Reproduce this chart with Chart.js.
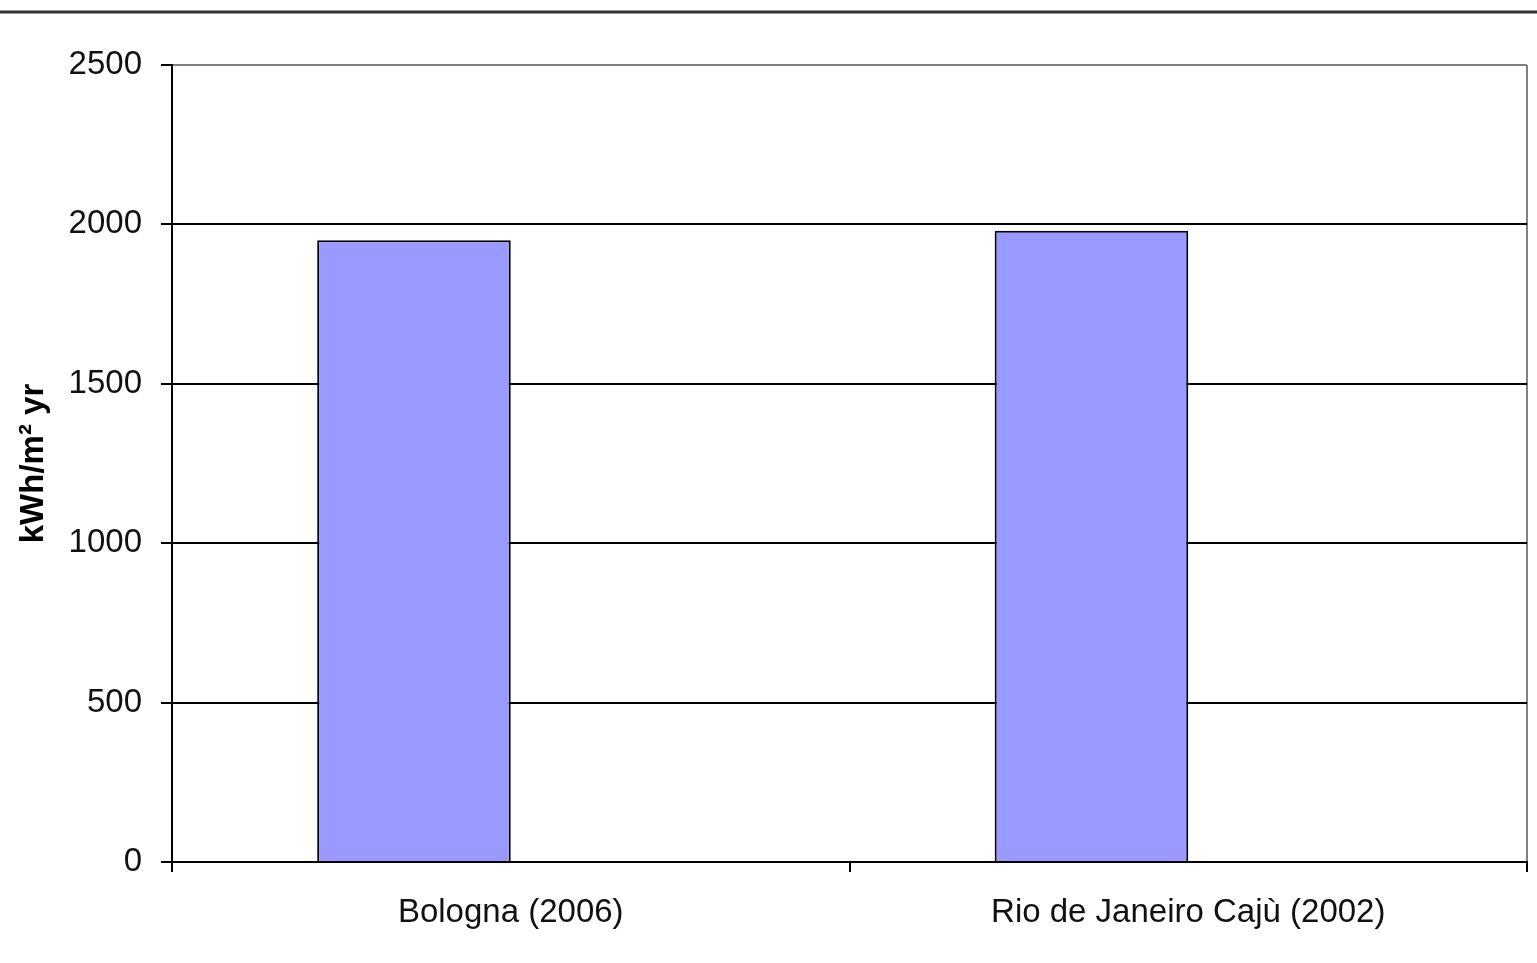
<!DOCTYPE html>
<html>
<head>
<meta charset="utf-8">
<script src="https://cdn.jsdelivr.net/npm/chart.js@4/dist/chart.umd.min.js"></script>
<style>
  body { margin: 0; background: #fff; }
  canvas { display: block; }
</style>
</head>
<body>
<canvas id="bar-chart" width="1537" height="963"></canvas>
<script>
// solar irradiation per site, kWh/m2 yr
var categories = ["Bologna (2006)", "Rio de Janeiro Cajù (2002)"];
var irradiation = [1950, 1980];
var secondSeries = [null, null];   // empty second series keeps the bars to the left of each slot
var yTicks = [0, 500, 1000, 1500, 2000, 2500];

var fontFamily = "'Liberation Sans', Arial, sans-serif";

// dark rule along the top of the page
var topRule = {
    id: 'topRule',
    beforeDraw: function(chart) {
        var c = chart.ctx;
        c.save();
        c.strokeStyle = '#333';
        c.lineWidth = 3;
        c.beginPath();
        c.moveTo(0, 12);
        c.lineTo(chart.width, 12);
        c.stroke();
        c.restore();
    }
};

var ctx = document.getElementById('bar-chart');

var barChart = new Chart(ctx, {
    type: 'bar',
    data: {
        labels: categories,
        datasets: [
            {
                label: 'kWh/m² yr',
                data: irradiation,
                backgroundColor: '#9999ff',
                borderColor: '#000',
                borderWidth: 2,
                categoryPercentage: 2 / 3.5,
                barPercentage: 1
            },
            {
                label: '',
                data: secondSeries,
                backgroundColor: '#993366',
                categoryPercentage: 2 / 3.5,
                barPercentage: 1
            }
        ]
    },
    options: {
        responsive: false,
        animation: false,
        layout: { padding: { top: 65, right: 10, left: 0, bottom: 0 } },
        plugins: {
            legend: { display: false },
            tooltip: { enabled: false }
        },
        scales: {
            x: {
                grid: {
                    offset: true,
                    drawOnChartArea: true,
                    drawTicks: true,
                    tickLength: 10,
                    lineWidth: 2,
                    // only the closing line on the right shows, as the plot frame
                    color: function(c) { return c.tick ? 'rgba(0,0,0,0)' : '#808080'; },
                    tickColor: '#000'
                },
                border: { color: '#000', width: 2 },
                ticks: {
                    padding: 21,
                    color: '#111',
                    font: { family: fontFamily, size: 33 }
                },
                afterFit: function(scale) { scale.height = 101; }
            },
            y: {
                min: 0,
                max: 2500,
                afterBuildTicks: function(scale) {
                    scale.ticks = yTicks.map(function(v) { return { value: v }; });
                },
                grid: {
                    drawTicks: true,
                    tickLength: 11,
                    lineWidth: 2,
                    color: function(c) { return c.tick && c.tick.value === 2500 ? '#808080' : '#000'; },
                    tickColor: '#000'
                },
                border: { color: '#000', width: 2 },
                ticks: {
                    padding: 19,
                    color: '#111',
                    font: { family: fontFamily, size: 33 },
                    callback: function(v) { return String(v); }
                },
                title: {
                    display: true,
                    text: 'kWh/m² yr',
                    color: '#000',
                    padding: { top: 14, bottom: 0 },
                    font: { family: fontFamily, size: 33, weight: 'bold' }
                },
                afterFit: function(scale) { scale.width = 172; }
            }
        }
    },
    plugins: [topRule]
});
</script>
</body>
</html>
